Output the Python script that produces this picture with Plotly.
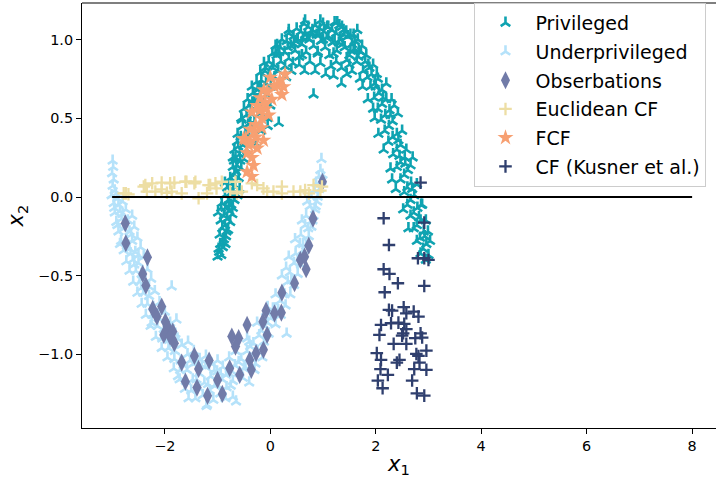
import plotly.graph_objects as go

# ---------------- data ----------------
priv_x = [-1.00,-0.97,-0.93,-0.95,-0.90,-0.88,-0.96,-0.84,-0.91,-0.86,-0.80,-0.94,-0.88,-0.82,-0.76,-0.99,-0.85,-0.78,-0.72,-0.92,-0.80,-0.74,-0.68,-0.86,-0.77,-0.70,-0.62,-0.82,-0.73,-0.66,-0.58,
          -0.76,-0.68,-0.60,-0.71,-0.63,-0.55,-0.66,-0.58,-0.50,-0.61,-0.52,-0.45,-0.56,-0.47,-0.40,-0.52,-0.42,-0.35,-0.30,-0.45,-0.37,-0.28,-0.20,-0.40,-0.31,-0.22,-0.14,-0.33,-0.24,-0.15,-0.06,-0.26,-0.17,-0.08,0.01,-0.19,-0.10,-0.01,0.08,-0.12,-0.03,0.06,0.15,0.04,0.12,0.20,0.28,0.10,0.19,0.27,0.35,0.43,0.22,0.31,0.39,0.47,0.55,0.35,0.44,0.52,0.60,0.68,0.50,0.58,0.66,0.74,0.82,0.90,0.64,0.72,0.80,0.88,0.96,1.04,1.12,0.85,0.94,1.02,1.10,1.18,1.26,1.00,1.08,1.17,1.25,1.33,1.41,1.22,1.31,1.39,1.47,1.55,1.36,1.44,1.52,1.60,1.68,1.50,1.58,1.66,1.74,1.82,1.64,1.72,1.80,1.88,1.76,1.84,1.92,1.98,1.90,2.04,2.06,1.97,2.12,2.12,2.04,2.20,2.18,2.10,2.26,2.25,2.17,2.32,2.32,2.24,2.40,2.40,2.33,2.47,2.47,2.40,2.55,2.54,2.47,2.61,2.60,2.54,2.67,2.66,2.60,2.73,2.72,2.66,2.79,2.78,2.72,2.85,2.84,2.78,2.91,2.90,2.85,2.96,2.95,3.00,3.03,2.99,
          0.16,0.82,-0.71,0.13,1.35,1.20,1.45,2.31,1.95,0.66,1.27,0.95,
          0.55,0.75,0.95,1.15,1.35,0.40,0.85,1.05,1.25,1.55,0.65,0.30,1.45,1.70,0.22,
          -0.55,-0.05,-0.50,0.00,-0.62,-0.18,-0.68,-0.28,-0.05,
          1.98,2.42,2.05,2.50,2.15,2.58,2.28,2.66,2.38,2.78,2.52,2.86,2.62,2.95,1.85,2.30,1.75,2.20,
          0.45,0.70,1.00,1.30,1.60,0.60,0.90,1.20,1.50,0.80,1.10,1.40,-0.85,-0.78,-0.64,-0.44,-0.34,-0.22,0.10,0.35,1.65,1.95,2.35,2.70,2.88,
          -0.98,-0.89,-0.83,-0.93,-0.79,-0.71,-0.86,-0.75,-0.65,-0.69,-0.57,-0.63,-0.48,-0.54,-0.38,-0.43,-0.26,-0.35,-0.18,-0.09,0.05,0.17,0.33,0.48,0.62,0.78,0.93,1.07,1.22,1.37,1.52,1.67,1.86,2.00,2.14,2.28,2.43,2.56,2.69,2.82,2.93,2.45,2.02,1.58]
priv_y = [-0.38,-0.35,-0.37,-0.30,-0.32,-0.27,-0.24,-0.25,-0.20,-0.18,-0.21,-0.15,-0.12,-0.14,-0.16,-0.10,-0.07,-0.09,-0.11,-0.04,-0.03,-0.05,-0.02,0.01,0.02,0.03,0.01,0.06,0.08,0.07,0.05,
          0.12,0.14,0.12,0.19,0.20,0.18,0.25,0.27,0.24,0.32,0.33,0.30,0.38,0.40,0.37,0.45,0.46,0.44,0.48,0.52,0.53,0.55,0.53,0.58,0.60,0.62,0.59,0.66,0.68,0.67,0.65,0.73,0.74,0.72,0.70,0.79,0.80,0.78,0.76,0.85,0.86,0.84,0.80,0.91,0.90,0.86,0.83,0.96,0.95,0.92,0.88,0.85,1.00,0.99,0.96,0.93,0.89,1.04,1.02,1.00,0.97,0.92,1.07,1.05,1.03,1.00,0.96,0.91,1.10,1.08,1.06,1.03,0.99,0.95,0.90,1.09,1.07,1.05,1.02,0.98,0.93,1.10,1.08,1.06,1.04,1.00,0.95,1.11,1.09,1.06,1.02,0.97,1.08,1.05,1.03,0.99,0.93,0.90,1.03,1.00,0.96,0.90,0.86,0.92,0.86,0.82,0.80,0.76,0.78,0.72,0.70,0.75,0.66,0.63,0.68,0.59,0.56,0.62,0.52,0.49,0.55,0.45,0.42,0.48,0.38,0.35,0.40,0.30,0.27,0.33,0.22,0.19,0.25,0.14,0.11,0.17,0.06,0.03,0.09,-0.02,-0.05,0.01,-0.10,-0.12,-0.07,-0.18,-0.20,-0.15,-0.26,-0.28,-0.22,-0.33,-0.36,-0.30,-0.40,-0.37,-0.28,-0.22,
          0.47,0.65,0.25,0.965,0.72,0.77,0.78,0.11,0.56,1.12,1.11,1.12,
          0.84,0.86,0.85,0.83,0.82,0.80,0.80,0.78,0.86,0.80,0.80,0.76,0.87,0.75,0.72,
          0.50,0.50,0.56,0.58,0.40,0.42,0.30,0.34,0.45,
          0.50,0.53,0.40,0.42,0.30,0.30,0.18,0.20,0.05,0.08,-0.08,-0.05,-0.20,-0.15,0.62,0.62,0.70,0.72,
          0.97,1.01,1.00,0.98,0.94,0.90,0.92,0.91,0.84,1.04,1.08,1.03,-0.30,-0.05,0.20,0.35,0.60,0.70,0.92,1.06,1.06,0.84,0.58,0.25,-0.05,
          -0.33,-0.29,-0.22,-0.07,-0.02,-0.07,0.09,0.10,0.16,0.23,0.23,0.35,0.35,0.49,0.47,0.62,0.62,0.70,0.70,0.82,0.82,0.92,0.95,0.99,1.01,1.03,1.03,1.01,0.99,0.97,0.93,0.89,0.84,0.70,0.63,0.52,0.36,0.21,0.05,-0.13,-0.25,0.26,0.78,0.93]

under_x = [-2.99,-2.98,-3.00,-2.97,-2.99,-2.95,-3.01,-2.93,-2.90,
           -2.97,-2.88,-2.80,-2.95,-2.85,-2.74,-2.92,-2.82,-2.70,-2.62,-2.88,-2.78,-2.67,-2.58,-2.83,-2.72,-2.62,-2.52,-2.78,-2.67,-2.56,-2.46,-2.73,-2.61,-2.50,-2.40,-2.67,-2.55,-2.44,-2.33,-2.60,-2.48,-2.37,-2.26,-1.87,
           -2.52,-2.41,-2.30,-2.19,-2.44,-2.33,-2.22,-2.10,-2.36,-2.24,-2.12,-2.00,-2.27,-2.14,-2.02,-1.90,-1.78,-2.17,-2.04,-1.92,-1.80,-2.06,-1.93,-1.81,-1.68,-1.56,-1.95,-1.82,-1.70,-1.57,-1.45,-1.83,-1.71,-1.58,-1.46,-1.34,-1.22,-1.72,-1.60,-1.47,-1.35,-1.23,-1.11,-1.00,-1.62,-1.50,-1.37,-1.25,-1.13,-1.01,-0.90,-0.78,-1.42,-1.28,-1.15,-1.03,-0.91,-0.79,-0.67,-1.20,-1.08,-0.95,-0.83,-0.71,-0.59,
           -0.55,-0.44,-0.66,-0.47,-0.35,-0.32,-0.21,-0.44,-0.24,-0.12,-0.10,0.01,-0.25,-0.03,0.10,0.09,0.19,-0.08,0.20,0.29,0.24,0.33,0.10,0.38,0.45,0.37,0.45,0.22,0.52,0.58,0.48,0.56,0.35,0.63,0.68,0.58,0.66,0.47,0.73,0.78,0.68,0.75,0.60,0.82,0.86,0.78,0.84,0.70,0.90,0.93,0.87,0.92,0.97,0.95,0.99,0.97,
           0.31,-1.21,-0.71,-0.30,-0.15,-0.52,-0.40,-1.55,-0.65,-0.85,
           -2.85,-2.65,-2.45,-2.25,-2.05,-1.75,-1.40,-1.05,-0.75,-0.40,-0.05,0.30,0.62,0.85,
           -2.96,-2.90,-2.80,-2.72,-2.64,-2.58,-2.50,-2.42,-2.30,-2.20,-2.09,-1.98,-1.86,-1.76,-1.64,-1.52,-1.40,-1.30,-1.18,-1.06,-0.94,-0.84,-0.72,-0.60,-0.50,-0.38,-0.28,-0.17,-0.05,0.05,0.15,0.27,0.40,0.52,0.62,0.72,0.80,0.89]
under_y = [0.23,0.19,0.15,0.11,0.07,0.04,0.01,0.02,-0.01,
           -0.04,-0.05,-0.03,-0.10,-0.09,-0.08,-0.16,-0.14,-0.15,-0.12,-0.22,-0.20,-0.22,-0.19,-0.28,-0.27,-0.28,-0.26,-0.34,-0.33,-0.35,-0.32,-0.41,-0.40,-0.42,-0.38,-0.47,-0.47,-0.49,-0.46,-0.54,-0.54,-0.56,-0.52,-0.57,
           -0.61,-0.61,-0.63,-0.60,-0.68,-0.68,-0.70,-0.67,-0.75,-0.75,-0.77,-0.73,-0.82,-0.82,-0.84,-0.80,-0.78,-0.89,-0.89,-0.91,-0.87,-0.96,-0.96,-0.98,-0.94,-0.92,-1.02,-1.03,-1.04,-1.00,-0.98,-1.09,-1.10,-1.10,-1.06,-1.03,-1.01,-1.16,-1.17,-1.16,-1.12,-1.08,-1.06,-1.04,-1.22,-1.23,-1.21,-1.18,-1.14,-1.11,-1.08,-1.02,-1.28,-1.26,-1.23,-1.19,-1.16,-1.12,-1.07,-1.32,-1.29,-1.25,-1.21,-1.17,-1.12,
           -1.03,-0.98,-0.98,-1.08,-1.03,-0.93,-0.88,-0.90,-0.98,-0.92,-0.82,-0.77,-0.80,-0.87,-0.81,-0.71,-0.66,-0.73,-0.75,-0.69,-0.60,-0.54,-0.62,-0.62,-0.56,-0.48,-0.42,-0.50,-0.49,-0.43,-0.36,-0.30,-0.38,-0.37,-0.31,-0.24,-0.18,-0.27,-0.25,-0.19,-0.12,-0.06,-0.15,-0.12,-0.06,0.00,0.04,-0.03,0.00,0.05,0.09,0.13,0.10,0.17,0.14,0.24,
           -0.87,-1.33,-1.27,-1.10,-1.02,-1.15,-1.18,-1.28,-1.30,-1.28,
           -0.30,-0.36,-0.58,-0.80,-0.90,-1.14,-1.05,-1.20,-1.20,-0.92,-0.70,-0.45,-0.30,-0.08,
           -0.07,-0.18,-0.11,-0.31,-0.24,-0.43,-0.37,-0.52,-0.57,-0.74,-0.71,-0.78,-0.94,-0.90,-1.07,-1.04,-1.16,-1.07,-1.19,-1.10,-1.12,-1.13,-1.11,-1.05,-1.09,-0.95,-1.06,-0.85,-0.80,-0.71,-0.72,-0.62,-0.53,-0.40,-0.34,-0.20,-0.15,-0.03]

obs_x = [-2.75,-2.74,-2.33,-2.42,-2.36,-2.23,-2.06,-2.15,-1.99,-1.95,-1.85,-2.02,-1.90,-1.82,-1.68,-1.44,-1.36,-1.16,-1.61,-1.39,-1.19,-0.91,-1.00,
         -0.77,-0.73,-0.60,-0.66,-0.58,-0.39,-0.36,-0.27,-0.13,-0.44,-0.14,-0.06,-0.08,0.08,0.21,0.22,0.46,0.57,0.65,0.68,0.73,0.81,0.99]
obs_y = [-0.167,-0.294,-0.383,-0.489,-0.563,-0.711,-0.696,-0.760,-0.792,-0.823,-0.855,-0.876,-0.887,-0.929,-1.052,-1.010,-1.092,-1.039,-1.173,-1.211,-1.263,-1.251,-1.162,
         -1.088,-0.887,-0.897,-0.950,-1.130,-1.035,-1.098,-0.992,-0.971,-0.813,-0.792,-0.876,-0.722,-0.739,-0.735,-0.608,-0.548,-0.400,-0.379,-0.459,-0.309,-0.138,0.097]

euc_x = [-2.78,-2.69,-2.74,-2.40,-2.34,-2.37,-2.24,-2.18,-2.06,-2.06,-1.96,-1.90,-1.82,-1.87,-1.68,-1.61,-1.59,-1.42,-1.44,-1.36,-1.20,-1.14,-1.17,-1.04,-0.92,-1.02,
         -0.76,-0.66,-0.63,-0.54,-0.35,-0.25,-0.13,-0.06,0.06,0.22,0.22,0.44,0.57,0.66,0.73,0.82,0.98,0.95]
euc_y = [0.023,0.017,0.023,0.066,0.034,0.076,0.087,0.034,0.091,0.049,0.027,0.087,0.091,0.034,0.023,0.097,0.097,0.097,0.087,-0.008,0.023,0.076,0.076,0.087,0.097,0.055,
         0.034,0.097,0.023,0.034,0.087,0.076,0.055,0.034,0.034,0.066,0.023,0.034,0.034,0.044,0.023,0.076,0.066,0.040]

fcf_x = [0.00,0.28,0.13,0.22,-0.06,-0.19,0.03,-0.25,-0.35,-0.09,-0.03,-0.16,-0.28,-0.16,-0.38,-0.47,-0.28,-0.13,-0.41,-0.25,-0.44,-0.35,-0.44,-0.35,
         0.08,0.18,-0.10,-0.20,-0.30,-0.38,-0.32,0.25,-0.12,-0.51]
fcf_y = [0.76,0.78,0.71,0.65,0.67,0.63,0.62,0.58,0.54,0.56,0.52,0.50,0.46,0.44,0.43,0.37,0.38,0.36,0.33,0.31,0.28,0.25,0.16,0.13,
         0.70,0.74,0.60,0.55,0.42,0.35,0.20,0.70,0.68,0.37]

kus_x = [2.85,2.15,2.92,2.25,2.80,2.92,3.00,2.15,2.26,2.42,2.92,2.17,2.25,2.31,2.53,2.58,2.72,2.81,2.10,2.29,2.43,2.54,2.58,2.52,2.50,2.07,2.85,2.75,2.88,
         2.34,2.58,2.02,2.96,2.77,2.81,2.10,2.45,2.40,2.83,2.09,2.73,2.96,2.23,2.04,2.69,2.13,2.78,2.92]
kus_y = [0.091,-0.135,-0.163,-0.305,-0.389,-0.389,-0.400,-0.459,-0.489,-0.548,-0.565,-0.605,-0.717,-0.722,-0.700,-0.739,-0.728,-0.760,-0.813,-0.802,-0.798,-0.806,-0.840,-0.866,-0.881,-0.876,-0.866,-0.897,-0.893,
         -0.933,-0.933,-0.992,-0.976,-0.997,-1.010,-1.035,-1.035,-1.052,-1.052,-1.094,-1.094,-1.098,-1.130,-1.166,-1.166,-1.215,-1.247,-1.262]

line_x = [-3, 8]
line_y = [0, 0]

FONT = "DejaVu Sans"
C_PRIV = "#0fa3b1"
C_UNDER = "#b5e2fa"
C_OBS = "#717ba8"
C_EUC = "#eddea4"
C_FCF = "#f7a072"
C_KUS = "#2f3f6e"

fig = go.Figure()
fig.add_trace(go.Scatter(x=priv_x, y=priv_y, mode="markers", name="Privileged", legendgroup="a",
                         marker=dict(symbol="y-up", size=8, color=C_PRIV, line=dict(width=2.6, color=C_PRIV))))
fig.add_trace(go.Scatter(x=under_x, y=under_y, mode="markers", name="Underprivileged", legendgroup="b",
                         marker=dict(symbol="y-up", size=8, color=C_UNDER, line=dict(width=2.6, color=C_UNDER))))
fig.add_trace(go.Scatter(x=obs_x, y=obs_y, mode="markers", name="Obserbations", legendgroup="c",
                         marker=dict(symbol="diamond-tall", size=13, color=C_OBS, line=dict(width=0))))
fig.add_trace(go.Scatter(x=euc_x, y=euc_y, mode="markers", name="Euclidean CF", legendgroup="d",
                         marker=dict(symbol="cross-thin", size=9, color=C_EUC, line=dict(width=2.3, color=C_EUC))))
fig.add_trace(go.Scatter(x=fcf_x, y=fcf_y, mode="markers", name="FCF", legendgroup="e",
                         marker=dict(symbol="star", size=12, color=C_FCF, line=dict(width=0))))
fig.add_trace(go.Scatter(x=kus_x, y=kus_y, mode="markers", name="CF (Kusner et al.)", legendgroup="f",
                         marker=dict(symbol="cross-thin", size=9, color=C_KUS, line=dict(width=2.3, color=C_KUS))))
fig.add_trace(go.Scatter(x=line_x, y=line_y, mode="lines", line=dict(color="black", width=2),
                         showlegend=False, hoverinfo="skip"))

fig.update_layout(
    width=716, height=482,
    margin=dict(l=82, r=0, t=3, b=54),
    paper_bgcolor="white", plot_bgcolor="white",
    font=dict(family=FONT, color="black", size=14.4),
    legend=dict(x=0.985, xanchor="right", y=1.0, yanchor="top",
                bgcolor="rgba(255,255,255,0.8)", bordercolor="#cccccc", borderwidth=1,
                font=dict(family=FONT, size=19, color="black"),
                itemwidth=50, tracegroupgap=1),
    showlegend=True,
)
fig.update_xaxes(range=[-3.571, 8.453], showgrid=False, zeroline=False,
                 showline=True, linecolor="black", linewidth=1.1, mirror=False,
                 ticks="outside", ticklen=5, tickwidth=1.1, tickcolor="black",
                 tickvals=[-2, 0, 2, 4, 6, 8], ticktext=["\u22122", "0", "2", "4", "6", "8"],
                 title=dict(text="<i>x</i><sub>1</sub>", font=dict(size=21, family=FONT), standoff=2))
fig.update_yaxes(range=[-1.4676, 1.2325], showgrid=False, zeroline=False,
                 showline=True, linecolor="black", linewidth=1.1, mirror=False,
                 ticks="outside", ticklen=5, tickwidth=1.1, tickcolor="black",
                 tickvals=[-1.0, -0.5, 0.0, 0.5, 1.0], ticktext=["\u22121.0", "\u22120.5", "0.0", "0.5", "1.0"],
                 title=dict(text="<i>x</i><sub>2</sub>", font=dict(size=21, family=FONT), standoff=8))
# top spine
fig.add_shape(type="line", xref="paper", yref="paper", x0=0, x1=1, y0=1, y1=1,
              line=dict(color="black", width=1.1))

fig.write_html("out.html")
